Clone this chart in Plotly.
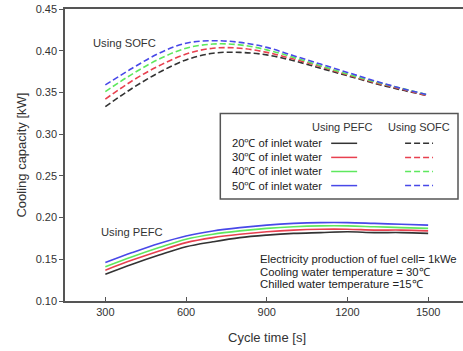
import plotly.graph_objects as go

cycle_time = [300, 400, 500, 600, 700, 800, 900, 1000, 1100, 1200, 1300, 1400, 1500]
labels = ["20\u2103 of inlet water", "30\u2103 of inlet water", "40\u2103 of inlet water", "50\u2103 of inlet water"]
colors = ["#333333", "#e8404f", "#5ee85e", "#4848e8"]

pefc_20 = [0.132, 0.144, 0.155, 0.165, 0.171, 0.176, 0.179, 0.181, 0.182, 0.183, 0.182, 0.182, 0.181]
pefc_30 = [0.137, 0.149, 0.160, 0.170, 0.176, 0.180, 0.183, 0.185, 0.186, 0.186, 0.185, 0.185, 0.184]
pefc_40 = [0.141, 0.153, 0.164, 0.174, 0.180, 0.184, 0.187, 0.189, 0.190, 0.190, 0.189, 0.188, 0.187]
pefc_50 = [0.146, 0.158, 0.169, 0.178, 0.184, 0.188, 0.191, 0.193, 0.194, 0.194, 0.193, 0.192, 0.191]

sofc_20 = [0.333, 0.355, 0.374, 0.389, 0.397, 0.398, 0.395, 0.388, 0.379, 0.370, 0.361, 0.353, 0.346]
sofc_30 = [0.342, 0.364, 0.382, 0.396, 0.403, 0.403, 0.398, 0.390, 0.381, 0.371, 0.362, 0.354, 0.346]
sofc_40 = [0.351, 0.372, 0.390, 0.403, 0.408, 0.407, 0.401, 0.392, 0.382, 0.372, 0.363, 0.355, 0.347]
sofc_50 = [0.359, 0.379, 0.397, 0.409, 0.412, 0.410, 0.404, 0.394, 0.384, 0.374, 0.364, 0.355, 0.347]

x_ticks = [300, 600, 900, 1200, 1500]
y_ticks = [0.10, 0.15, 0.20, 0.25, 0.30, 0.35, 0.40, 0.45]

pefc = [pefc_20, pefc_30, pefc_40, pefc_50]
sofc = [sofc_20, sofc_30, sofc_40, sofc_50]

FONT = "Liberation Sans, Arial, sans-serif"
TXT = "#333333"
DASH = "6px,3px"

fig = go.Figure()
for i in range(4):
    fig.add_trace(go.Scatter(x=cycle_time, y=pefc[i], mode="lines", line=dict(color=colors[i], width=1.6, shape="spline"),
                             showlegend=False, hoverinfo="skip"))
    fig.add_trace(go.Scatter(x=cycle_time, y=sofc[i], mode="lines",
                             line=dict(color=colors[i], width=1.6, shape="spline", dash=DASH),
                             showlegend=False, hoverinfo="skip"))

W, H = 463, 351
L, R, T, B = 64.5, 0, 9, 50
pw, ph = W - L - R, H - T - B

def px(x):
    return (x - L) / pw

def py(y):
    return 1 - (y - T) / ph

shapes = []
annotations = []
# legend box
shapes.append(dict(type="rect", xref="paper", yref="paper", x0=px(220), x1=px(458), y0=py(199), y1=py(113.5),
                   line=dict(color="#555555", width=1.5), fillcolor="white", layer="above"))
annotations.append(dict(xref="paper", yref="paper", x=px(375), y=py(127), text="Using PEFC", showarrow=False,
                        xanchor="right", yanchor="middle", font=dict(size=11, color=TXT, family=FONT)))
annotations.append(dict(xref="paper", yref="paper", x=px(452), y=py(127), text="Using SOFC", showarrow=False,
                        xanchor="right", yanchor="middle", font=dict(size=11, color=TXT, family=FONT)))
row_y = [143.3, 157.4, 171.5, 185.6]
for i in range(4):
    annotations.append(dict(xref="paper", yref="paper", x=px(230), y=py(row_y[i]), text=labels[i], showarrow=False,
                            xanchor="left", yanchor="middle", font=dict(size=11.2, color="#222222", family=FONT)))
    shapes.append(dict(type="line", xref="paper", yref="paper", x0=px(331), x1=px(357), y0=py(row_y[i]), y1=py(row_y[i]),
                       line=dict(color=colors[i], width=1.5), layer="above"))
    shapes.append(dict(type="line", xref="paper", yref="paper", x0=px(405), x1=px(433), y0=py(row_y[i]), y1=py(row_y[i]),
                       line=dict(color=colors[i], width=1.5, dash=DASH), layer="above"))

annotations.append(dict(xref="paper", yref="paper", x=px(91), y=py(43), text="Using SOFC", showarrow=False,
                        xanchor="left", yanchor="middle", font=dict(size=11.2, color=TXT, family=FONT)))
annotations.append(dict(xref="paper", yref="paper", x=px(99), y=py(231.5), text="Using PEFC", showarrow=False,
                        xanchor="left", yanchor="middle", font=dict(size=11.2, color=TXT, family=FONT)))
notes = ["Electricity production of fuel cell= 1kWe", "Cooling water temperature = 30\u2103", "Chilled water temperature =15\u2103"]
note_y = [258.5, 271.5, 283.5]
for t, yy in zip(notes, note_y):
    annotations.append(dict(xref="paper", yref="paper", x=px(258), y=py(yy), text=t, showarrow=False,
                            xanchor="left", yanchor="middle", font=dict(size=11.3, color="#222222", family=FONT)))

annotations.append(dict(xref="paper", yref="paper", x=px(267), y=py(337), text="Cycle time [s]", showarrow=False,
                        xanchor="center", yanchor="middle", font=dict(size=13, color=TXT, family=FONT)))
annotations.append(dict(xref="paper", yref="paper", x=px(20), y=py(155), text="Cooling capacity [kW]", showarrow=False,
                        textangle=-90, xanchor="center", yanchor="middle", font=dict(size=13, color=TXT, family=FONT)))

fig.update_layout(
    width=W, height=H,
    margin=dict(l=L, r=R, t=T, b=B),
    paper_bgcolor="white", plot_bgcolor="white",
    shapes=shapes, annotations=annotations,
    font=dict(family=FONT, size=11, color=TXT),
)
fig.update_xaxes(range=[150, 150 + pw / 80.8 * 300], tickvals=x_ticks, ticktext=[str(v) for v in x_ticks],
                 ticks="inside", ticklen=4, tickcolor="#555555", showline=True, linecolor="#555555", linewidth=1.5,
                 mirror=True, showgrid=False, zeroline=False, tickfont=dict(size=11, color=TXT))
fig.update_yaxes(range=[0.10, 0.45], tickvals=y_ticks, ticktext=["%.2f" % v for v in y_ticks],
                 ticks="outside", ticklen=4, tickcolor="#555555", showline=True, linecolor="#555555", linewidth=1.5,
                 mirror=False, showgrid=False, zeroline=False, tickfont=dict(size=11, color=TXT))

fig.write_html("out.html")
